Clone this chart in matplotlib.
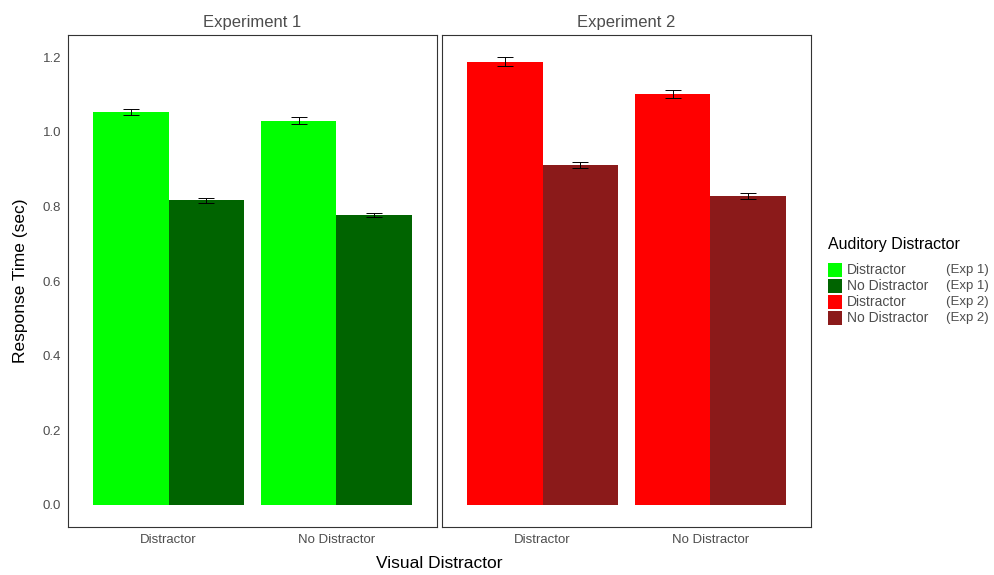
import matplotlib.pyplot as plt
from matplotlib.patches import Rectangle

plt.rcParams['font.family'] = ['Liberation Sans', 'DejaVu Sans']

experiments = ['Experiment 1', 'Experiment 2']
visual = ['Distractor', 'No Distractor']
auditory = ['Distractor', 'No Distractor']

# means[exp][visual][auditory]
means = [
    [[1.054, 0.817], [1.030, 0.777]],
    [[1.188, 0.911], [1.102, 0.828]],
]
errs = [
    [[0.008, 0.007], [0.009, 0.006]],
    [[0.012, 0.009], [0.010, 0.008]],
]
colors = [['#00FF00', '#006400'], ['#FF0000', '#8B1A1A']]
legend_labels = ['Distractor', 'No Distractor', 'Distractor', 'No Distractor']
legend_exp = ['(Exp 1)', '(Exp 1)', '(Exp 2)', '(Exp 2)']
legend_colors = ['#00FF00', '#006400', '#FF0000', '#8B1A1A']

fig = plt.figure(figsize=(9.95, 5.75), dpi=100)
W, H = 995, 575
axes = []
for i, left in enumerate([68, 442]):
    ax = fig.add_axes([left / W, 1 - 527 / H, 369 / W, 492 / H])
    axes.append(ax)
    width = 0.45
    for v in range(2):
        for a in range(2):
            x = v + 1 + (a - 0.5) * width
            ax.bar(x, means[i][v][a], width=width, color=colors[i][a], linewidth=0)
            ax.errorbar(x, means[i][v][a], yerr=errs[i][v][a], color='black',
                        linewidth=0.7, capsize=6, capthick=0.7)
    ax.set_xlim(0.4, 2.6)
    ax.set_ylim(-0.06, 1.26)
    ax.set_xticks([1, 2])
    ax.set_xticklabels(visual, color='#4d4d4d', fontsize=9.5)
    ax.set_yticks([0, 0.2, 0.4, 0.6, 0.8, 1.0, 1.2])
    ax.set_yticklabels(['0.0', '0.2', '0.4', '0.6', '0.8', '1.0', '1.2'],
                       color='#4d4d4d', fontsize=9.5)
    ax.tick_params(length=0, pad=5)
    if i == 1:
        ax.set_yticklabels([])
    for s in ax.spines.values():
        s.set_color('#333333')
        s.set_linewidth(0.8)
    ax.set_title(experiments[i], color='#4d4d4d', fontsize=12, pad=6)

fig.text(439 / W, 1 - 563 / H, 'Visual Distractor', ha='center', va='center', fontsize=12.5)
fig.text(21 / W, 1 - 281 / H, 'Response Time (sec)', ha='center', va='center',
         rotation=90, fontsize=12.5)

# legend
fig.text(828 / W, 1 - 245 / H, 'Auditory Distractor', ha='left', va='center', fontsize=11.5)
for k in range(4):
    yc = 270 + 16 * k
    fig.add_artist(Rectangle((828 / W, 1 - (yc + 7) / H), 14 / W, 14 / H,
                             transform=fig.transFigure, color=legend_colors[k], lw=0))
    fig.text(847 / W, 1 - yc / H, legend_labels[k], ha='left', va='center',
             color='#4d4d4d', fontsize=10)
    fig.text(946 / W, 1 - yc / H, legend_exp[k], ha='left', va='center',
             color='#4d4d4d', fontsize=9.5)

fig.savefig('out.png', dpi=100)
